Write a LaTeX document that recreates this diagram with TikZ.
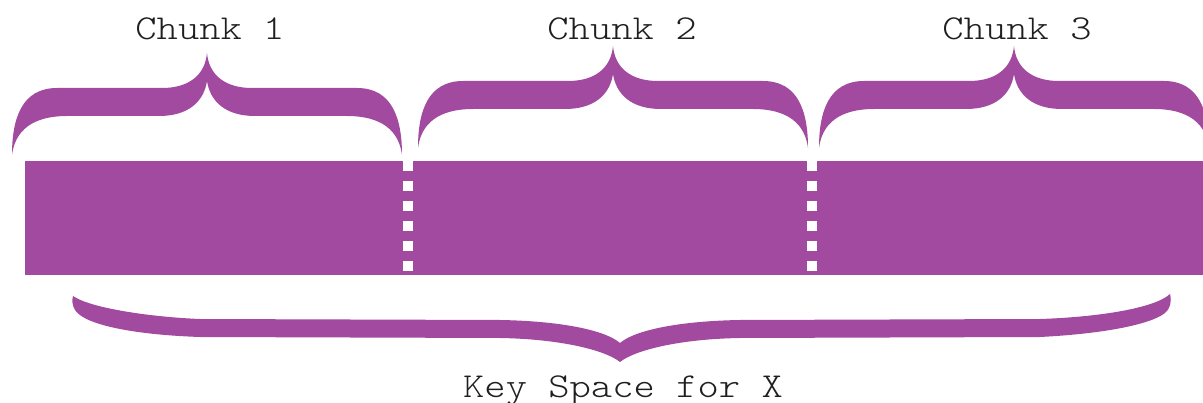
\documentclass[tikz,border=0pt]{standalone}
\usepackage{fontspec}
\newfontfamily\keyfont[FakeStretch=1.16]{lmmonolt10-regular.otf}
\definecolor{keypurple}{RGB}{161,74,160}
\begin{document}
\begin{tikzpicture}[x=1pt,y=-1pt,
  chunktext/.style={font=\keyfont\fontsize{35}{35}\selectfont, text=black!88, anchor=base, inner sep=0pt},
  gapline/.style={draw=white, line width=10pt, dash pattern=on 10pt off 10pt},
  chunkbrace/.pic={
    % filled curly brace, tip at the local origin, opening downwards
    \fill[keypurple] (0,0) .. controls (-2,22) and (-18,35) .. (-45,35)
      -- (-150,35) .. controls (-185,35) and (-195,65) .. (-195,102)
      .. controls (-192,78) and (-175,63) .. (-140,63)
      -- (-48,63) .. controls (-18,63) and (-3,48) .. (0,28)
      .. controls (3,48) and (18,63) .. (48,63)
      -- (140,63) .. controls (175,63) and (192,78) .. (195,102)
      .. controls (195,65) and (185,35) .. (150,35)
      -- (45,35) .. controls (18,35) and (2,22) .. (0,0) -- cycle;
  }]
\useasboundingbox (0,0) rectangle (1203,403);
\clip (0,0) rectangle (1203,403);

% key space bar, split into three chunks
\fill[keypurple] (25,161) rectangle (1215,275);
\draw[gapline] (408,161) -- (408,275);
\draw[gapline] (812,161) -- (812,275);

% braces over the chunks
\pic at (207,53) {chunkbrace};
\pic at (613,46) {chunkbrace};
\pic at (1014,46) {chunkbrace};

% wide brace under the whole bar
\fill[keypurple] (73,296) .. controls (90,308) and (150,317) .. (200,319)
  -- (500,320) .. controls (560,321) and (605,330) .. (620,343)
  .. controls (635,330) and (680,321) .. (740,320)
  -- (1040,319) .. controls (1100,317) and (1155,308) .. (1170,294)
  .. controls (1172,302) and (1170,309) .. (1165,313)
  .. controls (1150,325) and (1100,334) .. (1040,337)
  -- (740,338) .. controls (680,339) and (635,350) .. (620,362)
  .. controls (605,350) and (560,339) .. (500,338)
  -- (200,337) .. controls (140,335) and (85,326) .. (75,310)
  .. controls (72,305) and (72,300) .. (73,296) -- cycle;

% labels
\node[chunktext] (c1) at (210,40) {Chunk 1};
\node[chunktext] (c2) at (622,40) {Chunk 2};
\node[chunktext] (c3) at (1017,40) {Chunk 3};
\node[chunktext] (ks) at (623,398) {Key Space for X};
\end{tikzpicture}
\end{document}
